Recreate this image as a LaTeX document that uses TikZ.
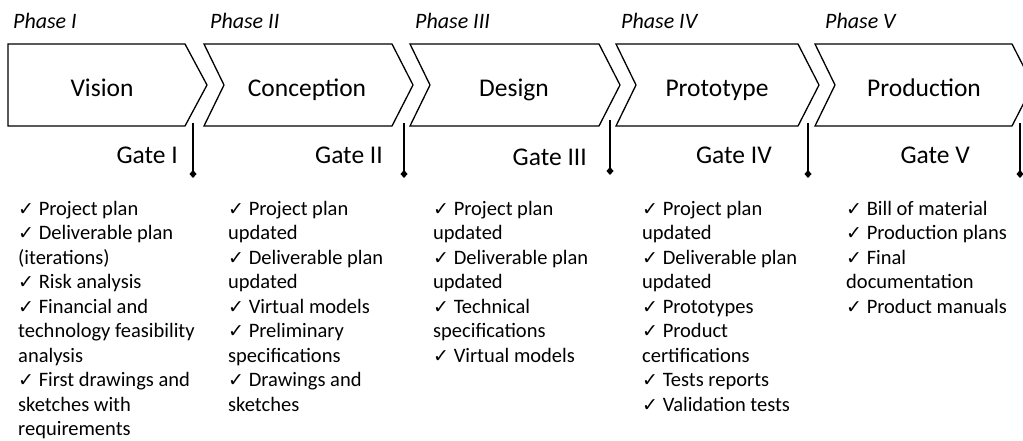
\documentclass[tikz,border=0pt]{standalone}
\usepackage{fontspec}
\setmainfont{Carlito}
\newfontfamily\checkfont{DejaVu Sans}
\usetikzlibrary{arrows.meta}

\newcommand{\chk}{{\checkfont\fontsize{19}{19}\selectfont ✓}\ }

\tikzset{
	phasebox/.style={draw=black, line width=1.3pt, fill=white},
	phasename/.style={font=\fontsize{22}{26}\selectfont\itshape, anchor=base west, inner sep=0pt},
	stagename/.style={font=\fontsize{25.5}{30}\selectfont, anchor=base, inner sep=0pt},
	gatename/.style={font=\fontsize{25.5}{30}\selectfont, anchor=base east, inner sep=0pt},
	gateline/.style={line width=2pt, -{Diamond[length=8pt,width=7pt]}},
	deliverables/.style={font=\fontsize{20.5}{24.5}\selectfont, align=left, anchor=north west, inner sep=0pt},
}

\begin{document}
\begin{tikzpicture}[x=1pt, y=-1pt]
	\useasboundingbox (0,0) rectangle (1023,441);
	% chevrons
	\draw[phasebox] (8,44) -- (185,44) -- (207,85) -- (185,126) -- (8,126) -- cycle;
	\foreach \xl/\xr in {204/392, 410/599, 616/798, 815/1012}
		\draw[phasebox] (\xl,44) -- (\xr,44) -- (\xr+21,85) -- (\xr,126) -- (\xl,126) -- (\xl+20,85) -- cycle;
	
	\node[stagename] (vision) at (102,97) {Vision};
	\node[stagename] (conception) at (307,97) {Conception};
	\node[stagename] (design) at (514,97) {Design};
	\node[stagename] (prototype) at (717,97) {Prototype};
	\node[stagename] (production) at (924,97) {Production};
	
	\node[phasename] (phase1) at (13,29) {Phase I};
	\node[phasename] (phase2) at (210,29) {Phase II};
	\node[phasename] (phase3) at (415,29) {Phase III};
	\node[phasename] (phase4) at (621,29) {Phase IV};
	\node[phasename] (phase5) at (825,29) {Phase V};
	
	% gates
	\foreach \n/\x/\t in {1/193/123, 2/404/123, 3/610/120, 4/808/123, 5/1020/123} {
		\coordinate (gate\n) at (\x,\t);
		\coordinate (gate\n end) at (\x,\t+55);
		\draw[gateline] (gate\n) -- (gate\n end);
	}
	\node[gatename] (gatename1) at (178,164) {Gate I};
	\node[gatename] (gatename2) at (383,164) {Gate II};
	\node[gatename] (gatename3) at (587,166) {Gate III};
	\node[gatename] (gatename4) at (772,164) {Gate IV};
	\node[gatename] (gatename5) at (970,164) {Gate V};
	
	% what each gate asks for
	\node[deliverables] (list1) at (18,201) {\chk Project plan\\ \chk Deliverable plan\\ (iterations)\\ \chk Risk analysis\\ \chk Financial and\\ technology feasibility\\ analysis\\ \chk First drawings and\\ sketches with\\ requirements};
	\node[deliverables] (list2) at (228,201) {\chk Project plan\\ updated\\ \chk Deliverable plan\\ updated\\ \chk Virtual models\\ \chk Preliminary\\ specifications\\ \chk Drawings and\\ sketches};
	\node[deliverables] (list3) at (433,201) {\chk Project plan\\ updated\\ \chk Deliverable plan\\ updated\\ \chk Technical\\ specifications\\ \chk Virtual models};
	\node[deliverables] (list4) at (642,201) {\chk Project plan\\ updated\\ \chk Deliverable plan\\ updated\\ \chk Prototypes\\ \chk Product\\ certifications\\ \chk Tests reports\\ \chk Validation tests};
	\node[deliverables] (list5) at (846,201) {\chk Bill of material\\ \chk Production plans\\ \chk Final\\ documentation\\ \chk Product manuals};
\end{tikzpicture}
\end{document}
